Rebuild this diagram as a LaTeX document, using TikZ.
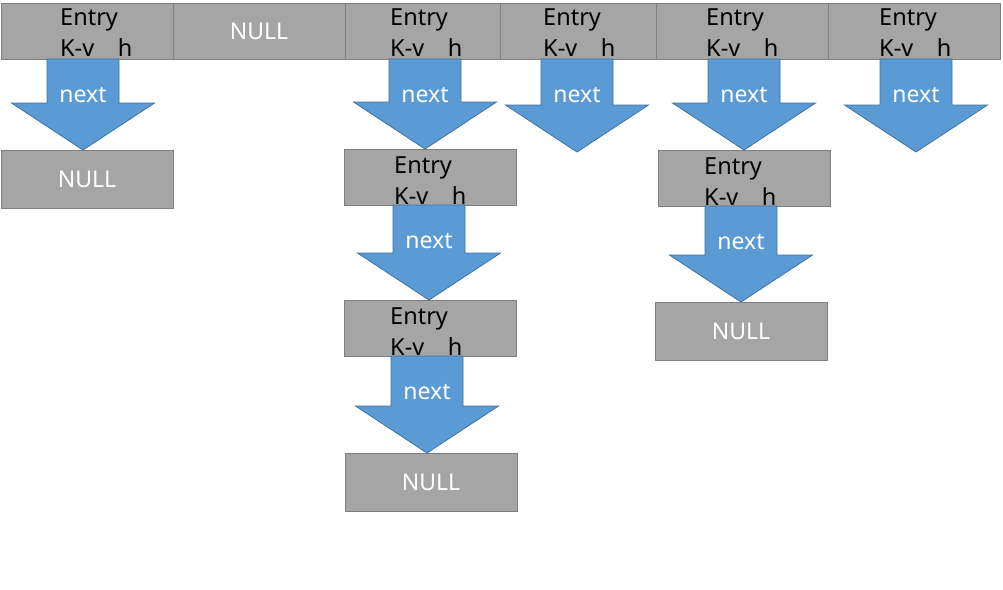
\documentclass[tikz,border=0pt]{standalone}
\usepackage{fontspec}
\setmainfont{Noto Sans}
\usetikzlibrary{calc}
\definecolor{boxfill}{HTML}{A5A5A5}
\definecolor{boxline}{HTML}{7F7F7F}
\definecolor{arrfill}{HTML}{5B9BD5}
\definecolor{arrline}{HTML}{41719C}
\tikzset{
 cell/.style={draw=boxline, fill=boxfill, line width=1pt, anchor=north west, minimum height=56pt, inner sep=0pt, outer sep=0pt, font=\fontsize{23}{23}\selectfont, text=white},
 entrytxt/.style={anchor=base west, inner sep=0pt, font=\fontsize{23.5}{23.5}\selectfont, text=black},
 nextarr/.style={draw=arrline, fill=arrfill, line width=0.8pt},
 nexttxt/.style={text=white, font=\fontsize{23}{23}\selectfont, inner sep=0pt, anchor=base}
}
\newcommand\entrytext[3]{%
 \node[entrytxt] (#1-l1) at ($(#1.north west)+(#2pt,-#3pt)$) {Entry};
 \node[entrytxt] (#1-l2) at ($(#1.north west)+(#2pt,-#3pt-31pt)$) {K-v\hspace{1em}h};
}
% #1 source node, #2 tip point, #3 label name, #4 horizontal shift
\newcommand\nextarrow[4]{%
 \draw[nextarr] let \p1=($(#1.south)+(#4pt,0pt)$), \p2=(#2) in
  (\x1-36pt,\y1) -- (\x1+36pt,\y1) -- (\x1+36pt,\y2+47pt) -- (\x1+71.5pt,\y2+47pt)
  -- (\x1,\y2) -- (\x1-71.5pt,\y2+47pt) -- (\x1-36pt,\y2+47pt) -- cycle
  node[nexttxt] (#3) at (\x1,\y1-43pt) {next};
}
\begin{document}
\begin{tikzpicture}[x=1pt,y=-1pt]
\useasboundingbox (0,0) rectangle (1003,589);
% top row
\node[cell, minimum width=172pt] (c1) at (1,3) {};
\node[cell, minimum width=172pt] (c2) at (173,3) {NULL};
\node[cell, minimum width=155pt] (c3) at (345,3) {};
\node[cell, minimum width=156pt] (c4) at (500,3) {};
\node[cell, minimum width=172pt] (c5) at (656,3) {};
\node[cell, minimum width=172pt] (c6) at (828,3) {};
\entrytext{c1}{59}{22}
\entrytext{c3}{45}{22}
\entrytext{c4}{43}{22}
\entrytext{c5}{50}{22}
\entrytext{c6}{51}{22}
% chains
\node[cell, minimum width=172pt, minimum height=58pt] (n1) at (1,150) {NULL};
\node[cell, minimum width=172pt] (e3a) at (344,149) {};
\node[cell, minimum width=172pt] (e3b) at (344,300) {};
\node[cell, minimum width=172pt, minimum height=58pt] (n3) at (345,453) {NULL};
\node[cell, minimum width=172pt] (e5a) at (658,150) {};
\node[cell, minimum width=172pt, minimum height=58pt] (n5) at (655,302) {NULL};
\entrytext{e3a}{50}{24}
\entrytext{e3b}{46}{24}
\entrytext{e5a}{46}{24}
\coordinate (t4) at (578,152);
\coordinate (t6) at (916,152);
% arrows
\nextarrow{c1}{n1.north}{a1}{-4}
\nextarrow{c3}{e3a.north}{a3}{2.5}
\nextarrow{c4}{t4}{a4}{-1}
\nextarrow{c5}{e5a.north}{a5}{2}
\nextarrow{c6}{t6}{a6}{2}
\nextarrow{e3a}{e3b.north}{a7}{-1}
\nextarrow{e3b}{n3.north}{a8}{-3}
\nextarrow{e5a}{n5.north}{a9}{-3}
\end{tikzpicture}
\end{document}
